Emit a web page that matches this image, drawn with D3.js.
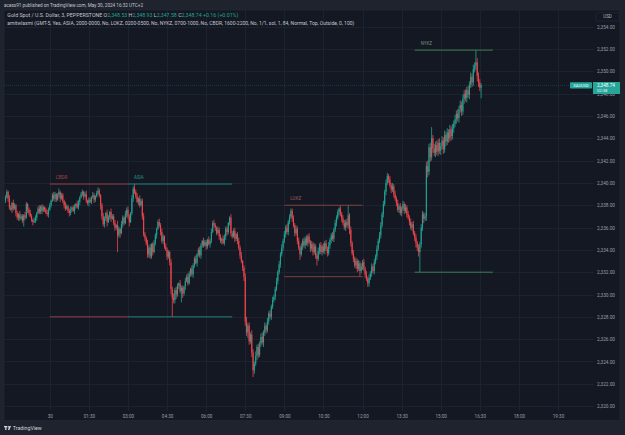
<!DOCTYPE html>
<html><head><meta charset="utf-8">
<script src="https://cdn.jsdelivr.net/npm/d3@7/dist/d3.min.js"></script>
<style>
html,body{margin:0;padding:0;background:#1e222d;overflow:hidden}
svg{display:block;font-family:Roboto,"Noto Sans",sans-serif}
</style></head>
<body><svg id="c" width="625" height="435"></svg>
<script>
// ---------- DATA ----------
const firstBarMinute = -102;   // 22:18 on May 29, minutes relative to 00:00 May 30
const barMinutes = 3;
const firstOpen = 2338.4;
const closes = [
 2338.7,2339.2,2338.6,2337.8,2337.6,2338.2,2337.7,2338.0,2337.3,2336.9,
 2337.2,2336.8,2337.0,2336.6,2337.1,2336.9,2338.1,2337.6,2337.3,2337.0,
 2336.7,2336.5,2336.6,2336.9,2337.3,2337.7,2337.4,2337.9,2337.5,2337.8,
 2337.6,2337.3,2337.2,2337.6,2338.0,2338.4,2338.9,2338.6,2339.0,2338.5,
 2338.9,2339.2,2338.6,2338.9,2338.4,2338.0,2337.7,2337.9,2337.5,2337.3,
 2337.6,2337.8,2337.5,2337.9,2338.1,2337.8,2338.3,2338.7,2339.0,2339.2,
 2338.8,2339.0,2338.4,2338.2,2338.5,2338.3,2338.7,2338.9,2338.5,2338.8,
 2339.1,2339.3,2338.9,2338.0,2337.0,2336.3,2336.8,2337.3,2336.5,2336.9,
 2337.4,2336.8,2337.0,2336.4,2336.0,2336.2,2335.3,2335.9,2335.5,2336.3,
 2336.9,2336.4,2337.2,2337.6,2337.0,2336.5,2337.3,2338.6,2339.5,2339.2,
 2338.8,2338.3,2338.6,2338.0,2338.4,2337.0,2335.4,2335.1,2334.6,2333.6,
 2334.2,2333.4,2334.5,2333.8,2334.6,2335.3,2335.9,2336.5,2336.2,2335.6,
 2334.8,2335.2,2334.3,2334.0,2333.4,2333.8,2332.9,2330.5,2329.7,2329.5,
 2330.4,2330.0,2330.8,2331.0,2330.3,2330.6,2330.1,2330.7,2331.2,2331.6,
 2331.0,2331.9,2332.3,2331.8,2332.6,2333.2,2332.8,2333.6,2334.0,2333.5,
 2334.4,2334.8,2334.4,2334.7,2334.3,2334.9,2334.5,2334.8,2335.6,2336.4,
 2336.2,2336.0,2335.5,2335.8,2335.2,2334.8,2335.0,2334.6,2335.2,2335.9,
 2335.6,2336.4,2336.9,2335.5,2335.2,2335.7,2335.0,2335.4,2334.8,2334.2,
 2333.5,2333.0,2332.4,2331.6,2327.6,2326.6,2327.2,2325.8,2326.4,2324.8,
 2323.2,2323.8,2324.5,2325.3,2324.6,2325.6,2326.2,2325.7,2326.6,2327.2,
 2326.8,2327.6,2328.3,2328.0,2328.9,2329.5,2329.8,2330.5,2331.2,2332.0,
 2332.7,2333.6,2334.2,2334.8,2335.4,2336.0,2335.6,2336.5,2337.0,2337.5,
 2336.8,2336.2,2335.5,2335.9,2334.8,2334.2,2333.6,2334.3,2334.8,2334.4,
 2335.0,2334.6,2335.2,2334.7,2334.1,2334.5,2333.8,2334.3,2333.5,2333.2,
 2333.9,2334.4,2333.8,2334.3,2333.9,2334.6,2334.1,2333.7,2334.4,2334.9,
 2335.3,2335.0,2335.8,2336.4,2336.9,2337.4,2337.7,2337.2,2336.8,2336.4,
 2336.0,2336.5,2336.2,2337.1,2335.8,2334.6,2333.7,2333.2,2332.6,2333.0,
 2332.3,2332.8,2332.1,2332.5,2332.9,2332.3,2331.8,2331.4,2331.0,2331.5,
 2331.9,2332.5,2332.1,2332.9,2333.4,2334.1,2334.8,2335.3,2336.2,2337.2,
 2338.1,2339.2,2340.0,2340.6,2340.3,2339.8,2339.4,2339.7,2339.0,2338.6,
 2338.2,2337.6,2337.9,2337.3,2337.7,2338.1,2337.5,2337.8,2337.2,2336.9,
 2336.5,2336.0,2336.3,2335.5,2335.1,2334.6,2334.2,2333.8,2334.5,2336.0,
 2337.2,2336.8,2337.0,2341.5,2341.0,2343.2,2342.3,2344.0,2343.1,2342.7,
 2343.4,2342.8,2343.6,2342.9,2343.3,2343.8,2343.0,2344.3,2343.7,2344.5,
 2344.0,2344.8,2344.2,2344.9,2345.3,2345.7,2346.2,2345.8,2346.6,2347.0,
 2346.4,2347.5,2348.0,2347.6,2348.3,2347.9,2348.8,2349.5,2349.0,2350.2,
 2350.5,2350.8,2349.6,2349.0,2348.53,2348.74
];
const upperWicks = [
 0.2,0.2,0.1,0.3,0.2,0.1,0.3,0.2,0.1,0.2,
 0.1,0.3,0.2,0.2,0.1,0.3,0.2,0.1,0.2,0.3,
 0.2,0.1,0.3,0.2,0.1,0.2,0.3,0.1,0.2,0.2,
 0.1,0.2,0.3,0.2,0.2,0.1,0.2,0.3,0.2,0.1,
 0.2,0.3,0.1,0.2,0.2,0.1,0.3,0.2,0.1,0.2,
 0.3,0.1,0.2,0.2,0.1,0.3,0.2,0.1,0.2,0.2,
 0.1,0.2,0.3,0.1,0.2,0.2,0.1,0.3,0.2,0.1,
 0.2,0.3,0.2,0.1,0.2,0.3,0.2,0.1,0.3,0.2,
 0.1,0.3,0.2,0.2,0.3,0.1,0.4,0.2,0.1,0.3,
 0.2,0.1,0.3,0.2,0.3,0.2,0.1,0.3,0.2,0.4,
 0.2,0.3,0.1,0.3,0.2,0.2,0.3,0.2,0.1,0.3,
 0.2,0.3,0.1,0.2,0.3,0.2,0.1,0.2,0.3,0.2,
 0.3,0.2,0.1,0.3,0.2,0.2,0.1,0.3,0.2,0.4,
 0.2,0.3,0.2,0.1,0.3,0.2,0.2,0.1,0.3,0.2,
 0.3,0.2,0.1,0.3,0.2,0.2,0.3,0.1,0.2,0.3,
 0.2,0.1,0.3,0.2,0.2,0.1,0.3,0.2,0.3,0.2,
 0.3,0.2,0.1,0.3,0.2,0.2,0.1,0.3,0.2,0.2,
 0.2,0.1,0.1,0.3,0.2,0.2,0.3,0.1,0.2,0.3,
 0.2,0.3,0.1,0.2,0.3,0.4,0.2,0.3,0.2,0.4,
 0.3,0.2,0.4,0.2,0.3,0.2,0.3,0.4,0.2,0.3,
 0.2,0.3,0.2,0.3,0.2,0.3,0.2,0.2,0.3,0.2,
 0.3,0.2,0.3,0.2,0.3,0.2,0.3,0.2,0.2,0.2,
 0.2,0.3,0.2,0.3,0.2,0.3,0.2,0.3,0.2,0.3,
 0.2,0.3,0.2,0.3,0.2,0.3,0.2,0.3,0.2,0.2,
 0.3,0.2,0.3,0.2,0.3,0.2,0.3,0.2,0.3,0.2,
 0.2,0.3,0.2,0.3,0.2,0.2,0.1,0.3,0.2,0.3,
 0.3,0.2,0.3,0.9,0.2,0.3,0.2,0.3,0.2,0.3,
 0.2,0.3,0.2,0.3,0.2,0.3,0.2,0.3,0.2,0.3,
 0.2,0.3,0.2,0.3,0.2,0.3,0.2,0.3,0.3,0.2,
 0.3,0.2,0.3,0.3,0.2,0.3,0.2,0.3,0.2,0.3,
 0.2,0.3,0.2,0.3,0.2,0.3,0.2,0.3,0.2,0.3,
 0.2,0.3,0.2,0.3,0.2,0.3,0.2,0.3,0.2,0.3,
 0.3,0.2,0.3,0.4,0.5,0.3,0.4,1.0,0.3,0.4,
 0.3,0.4,0.3,0.4,0.3,0.4,0.3,0.4,0.3,0.4,
 0.3,0.4,0.3,0.4,0.3,0.4,0.3,0.4,0.3,0.4,
 0.3,0.4,0.3,0.4,0.3,0.4,0.3,0.4,0.3,0.4,
 0.3,1.1,0.4,0.3,0.3,0.19
];
const lowerWicks = [
 0.2,0.1,0.3,0.2,0.1,0.3,0.2,0.1,0.3,0.2,
 0.3,0.2,0.1,0.2,0.5,0.2,0.1,0.3,0.2,0.1,
 0.2,0.3,0.1,0.2,0.3,0.1,0.2,0.2,0.3,0.1,
 0.2,0.1,0.2,0.3,0.1,0.2,0.1,0.2,0.3,0.2,
 0.1,0.2,0.3,0.1,0.2,0.3,0.2,0.1,0.2,0.3,
 0.2,0.2,0.1,0.3,0.2,0.1,0.2,0.3,0.1,0.2,
 0.3,0.1,0.2,0.2,0.3,0.1,0.2,0.1,0.3,0.2,
 0.1,0.2,0.2,0.4,0.3,0.2,0.3,0.2,0.4,0.1,
 0.2,0.3,0.1,0.2,0.3,0.2,1.5,0.2,0.4,0.1,
 0.3,0.2,0.1,0.3,0.2,0.4,0.1,0.2,0.3,0.2,
 0.2,0.1,0.3,0.2,0.1,0.3,0.2,0.3,0.2,0.3,
 0.3,0.2,0.2,0.3,0.1,0.2,0.3,0.1,0.2,0.3,
 0.2,0.3,0.2,0.1,0.3,0.2,0.3,0.5,1.7,0.3,
 0.3,0.4,0.2,0.3,0.2,1.0,0.4,0.2,0.3,0.1,
 0.2,0.1,0.3,0.2,0.3,0.2,0.1,0.3,0.2,0.2,
 0.3,0.2,0.2,0.1,0.3,0.2,0.1,0.3,0.2,0.1,
 0.2,0.3,0.2,0.1,0.3,0.2,0.3,0.1,0.2,0.3,
 0.3,0.2,0.2,0.3,0.2,0.1,0.3,0.2,0.3,0.2,
 0.3,0.2,0.3,0.4,0.4,0.3,0.5,0.3,0.2,0.4,
 0.6,0.3,0.2,0.4,0.3,0.2,0.3,0.2,0.4,0.3,
 0.3,0.2,0.3,0.2,0.3,0.2,0.2,0.3,0.2,0.3,
 0.2,0.3,0.2,0.3,0.2,0.3,0.2,0.3,0.2,0.2,
 0.3,0.2,0.3,0.2,0.3,0.2,0.5,0.2,0.3,0.2,
 0.3,0.2,0.3,0.2,0.3,0.2,0.3,0.2,0.3,0.6,
 0.2,0.3,0.2,0.3,0.2,0.3,0.2,0.3,0.2,0.3,
 0.3,0.2,0.3,0.2,0.3,0.2,0.3,0.2,0.3,0.2,
 0.2,0.3,0.2,0.3,0.4,0.3,0.2,0.3,0.2,0.3,
 0.3,0.2,0.5,0.2,0.3,0.2,0.3,0.2,0.3,0.3,
 0.2,0.3,0.2,0.3,0.2,0.3,0.2,0.2,0.3,0.2,
 0.3,0.2,0.3,0.2,0.3,0.2,0.3,0.2,0.3,0.2,
 0.3,0.2,0.3,0.2,0.3,0.2,0.3,0.2,0.3,0.2,
 0.3,0.2,0.3,0.2,0.3,0.4,0.3,0.4,1.8,0.3,
 0.3,0.4,0.2,0.4,0.5,0.3,0.4,0.3,0.4,0.3,
 0.4,0.3,0.4,0.3,0.4,0.3,0.4,0.3,0.4,0.3,
 0.4,0.3,0.4,0.3,0.4,0.3,0.4,0.3,0.4,0.3,
 0.4,0.3,0.4,0.3,0.4,0.3,0.4,0.3,0.4,0.3,
 0.3,0.4,0.5,0.4,0.3,0.95
];
// sessions (minutes from 00:00 May 30)
const sessionNames = ["CBDR","ASIA","LOKZ","NYKZ"];
const sessionStart = [0,180,540,840];
const sessionEnd   = [180,420,720,1020];
const sessionHigh  = [2339.9,2339.9,2338.0,2351.9];
const sessionLow   = [2328.0,2328.0,2331.6,2332.0];
// axes
const priceTicks = d3.range(2320, 2355, 2);
const timeTicks = [0,90,180,270,360,450,540,630,720,810,900,990,1080,1170];
const timeTickLabels = ["30","01:30","03:00","04:30","06:00","07:30","09:00","10:30","12:00","13:30","15:00","16:30","18:00","19:30"];
const lastPrice = 2348.74;
const symbol = "XAUUSD";
const countdown = "02:38";

// ---------- STYLE ----------
const upColor = "#22a393", downColor = "#f0464f";
const sessionColor = {CBDR:"#a3424a", ASIA:"#1f8f86", LOKZ:"#8a4542", NYKZ:"#3f8a52"};
const sessionLabelColor = {CBDR:"#a3424a", ASIA:"#22968b", LOKZ:"#9a5a55", NYKZ:"#6f8f78"};

const svg = d3.select("#c");
const plot = {left:4, right:594, top:10, bottom:411};

const x = d3.scaleLinear().domain([0,1170]).range([49.8,558]);
const y = d3.scaleLinear().domain([2320,2354]).range([406.1,26.7]);

// frame
svg.append("rect").attr("width",625).attr("height",435).attr("fill","#1f232e");
svg.append("rect").attr("x",4).attr("y",10).attr("width",616).attr("height",410.5)
  .attr("fill","#141823").attr("stroke","#2a2e39").attr("stroke-width",0.5);

// grid
const grid = svg.append("g");
grid.selectAll(".hg").data(priceTicks).join("line")
  .attr("x1",plot.left).attr("x2",plot.right)
  .attr("y1",d=>Math.round(y(d))+0.5).attr("y2",d=>Math.round(y(d))+0.5)
  .attr("stroke","#1d2230").attr("stroke-width",1);
grid.selectAll(".vg").data(timeTicks).join("line")
  .attr("y1",plot.top).attr("y2",plot.bottom)
  .attr("x1",d=>Math.round(x(d))+0.5).attr("x2",d=>Math.round(x(d))+0.5)
  .attr("stroke","#1d2230").attr("stroke-width",1);

// price axis
const yAxis = d3.axisRight(y).tickValues(priceTicks).tickFormat(d3.format(",.2f")).tickSize(0).tickPadding(0);
const gy = svg.append("g").attr("transform","translate(597,0)").call(yAxis);
gy.select(".domain").remove();
gy.selectAll("text").attr("fill","#9a9ea8").attr("font-size","4.7px").attr("font-family","Roboto,sans-serif").attr("dy","0.35em");

// time axis
const xAxis = d3.axisBottom(x).tickValues(timeTicks).tickFormat((d,i)=>timeTickLabels[i]).tickSize(0).tickPadding(0);
const gx = svg.append("g").attr("transform","translate(0,416)").call(xAxis);
gx.select(".domain").remove();
gx.selectAll("text").attr("fill","#9a9ea8").attr("font-size","4.6px").attr("font-family","Roboto,sans-serif").attr("y",0).attr("dy","0.35em");

// candles
const bars = closes.map((c,i)=>{
  const o = i===0 ? firstOpen : closes[i-1];
  const top = Math.max(o,c), bot = Math.min(o,c);
  return {t:firstBarMinute + i*barMinutes, o, c, h: top + upperWicks[i], l: bot - lowerWicks[i]};
});
const cg = svg.append("g");
cg.selectAll("line.w").data(bars).join("line")
  .attr("x1",d=>x(d.t)).attr("x2",d=>x(d.t))
  .attr("y1",d=>y(d.h)).attr("y2",d=>y(d.l))
  .attr("stroke",d=>d.c>=d.o?upColor:downColor).attr("stroke-width",0.8);
cg.selectAll("rect.b").data(bars).join("rect")
  .attr("x",d=>x(d.t)-0.55).attr("width",1.1)
  .attr("y",d=>y(Math.max(d.o,d.c)))
  .attr("height",d=>Math.max(0.7, Math.abs(y(d.o)-y(d.c))))
  .attr("fill",d=>d.c>=d.o?upColor:downColor);

// sessions
const sg = svg.append("g");
sessionNames.forEach((n,i)=>{
  const x1 = x(sessionStart[i]), x2 = x(sessionEnd[i]);
  [sessionHigh[i], sessionLow[i]].forEach(p=>{
    sg.append("line").attr("x1",x1).attr("x2",x2).attr("y1",y(p)).attr("y2",y(p))
      .attr("stroke",sessionColor[n]).attr("stroke-width",0.9);
  });
  sg.append("text").attr("x",x1+6).attr("y",y(sessionHigh[i])-6.5).attr("dy","0.35em")
    .attr("font-size","4.5px").attr("fill",sessionLabelColor[n]).text(n);
});

// last price line
svg.append("line").attr("x1",plot.left).attr("x2",570).attr("y1",y(lastPrice)).attr("y2",y(lastPrice))
  .attr("stroke","#26a69a").attr("stroke-opacity",0.45).attr("stroke-width",0.6).attr("stroke-dasharray","1,1");
svg.append("rect").attr("x",570).attr("y",y(lastPrice)-3.2).attr("width",22).attr("height",6.4).attr("rx",0.8).attr("fill","#26a69a");
svg.append("text").attr("x",581).attr("y",y(lastPrice)).attr("dy","0.35em").attr("text-anchor","middle")
  .attr("font-size","4px").attr("fill","#ffffff").text(symbol);
svg.append("rect").attr("x",593).attr("y",y(lastPrice)-3.4).attr("width",27).attr("height",12).attr("fill","#26a69a");
svg.append("text").attr("x",597).attr("y",y(lastPrice)).attr("dy","0.35em")
  .attr("font-size","4.7px").attr("fill","#ffffff").text(d3.format(",.2f")(lastPrice));
svg.append("text").attr("x",597).attr("y",y(lastPrice)+5).attr("dy","0.35em")
  .attr("font-size","4.2px").attr("fill","#e6f5f3").text(countdown);

// currency box
svg.append("rect").attr("x",596).attr("y",12.7).attr("width",23).attr("height",8.3).attr("rx",1)
  .attr("fill","#141823").attr("stroke","#2a2e39").attr("stroke-width",0.5);
svg.append("text").attr("x",607.5).attr("y",16.9).attr("dy","0.35em").attr("text-anchor","middle")
  .attr("font-size","4.5px").attr("fill","#b2b5be").text("USD");

// header texts
svg.append("text").attr("x",4).attr("y",5.6).attr("dy","0.35em").attr("font-size","4.8px")
  .attr("fill","#c3c6ce").attr("textLength",139).attr("lengthAdjust","spacingAndGlyphs")
  .text("acess91 published on TradingView.com, May 30, 2024 16:32 UTC+2");

const h2 = svg.append("text").attr("x",7.3).attr("y",15.2).attr("dy","0.35em").attr("font-size","4.7px")
  .attr("textLength",231).attr("lengthAdjust","spacingAndGlyphs");
const ohlc = [["Gold Spot / U.S. Dollar, 3, PEPPERSTONE ","#c3c6ce"],["O","#c3c6ce"],["2,348.53 ",upColor],["H","#c3c6ce"],["2,348.93 ",upColor],["L","#c3c6ce"],["2,347.58 ",upColor],["C","#c3c6ce"],["2,348.74 ",upColor],["+0.16 (+0.01%)",upColor]];
ohlc.forEach(([t,c])=>h2.append("tspan").attr("fill",c).text(t));

svg.append("text").attr("x",7.3).attr("y",23.2).attr("dy","0.35em").attr("font-size","4.6px")
  .attr("fill","#c3c6ce").attr("textLength",347).attr("lengthAdjust","spacingAndGlyphs")
  .text("amitwlaxmi (GMT-5, Yes, ASIA, 2000-0000, No, LOKZ, 0200-0500, No, NYKZ, 0700-1000, No, CBDR, 1600-2200, No, 1/1, sol, 1, 84, Normal, Top, Outside, 0, 100)");

// footer logo
const lg = svg.append("g").attr("transform","translate(4,426)").attr("fill","#d1d4dc");
lg.append("rect").attr("x",0).attr("y",0).attr("width",3.2).attr("height",1.3);
lg.append("rect").attr("x",1.2).attr("y",0).attr("width",1.3).attr("height",4);
lg.append("circle").attr("cx",4.3).attr("cy",0.8).attr("r",0.75);
lg.append("path").attr("d","M5.3,0 L7,0 L5.4,4 L3.9,4 Z");
svg.append("text").attr("x",12.8).attr("y",428.3).attr("dy","0.35em").attr("font-size","5.2px")
  .attr("fill","#d1d4dc").attr("textLength",29).attr("lengthAdjust","spacingAndGlyphs").text("TradingView");
</script></body></html>
